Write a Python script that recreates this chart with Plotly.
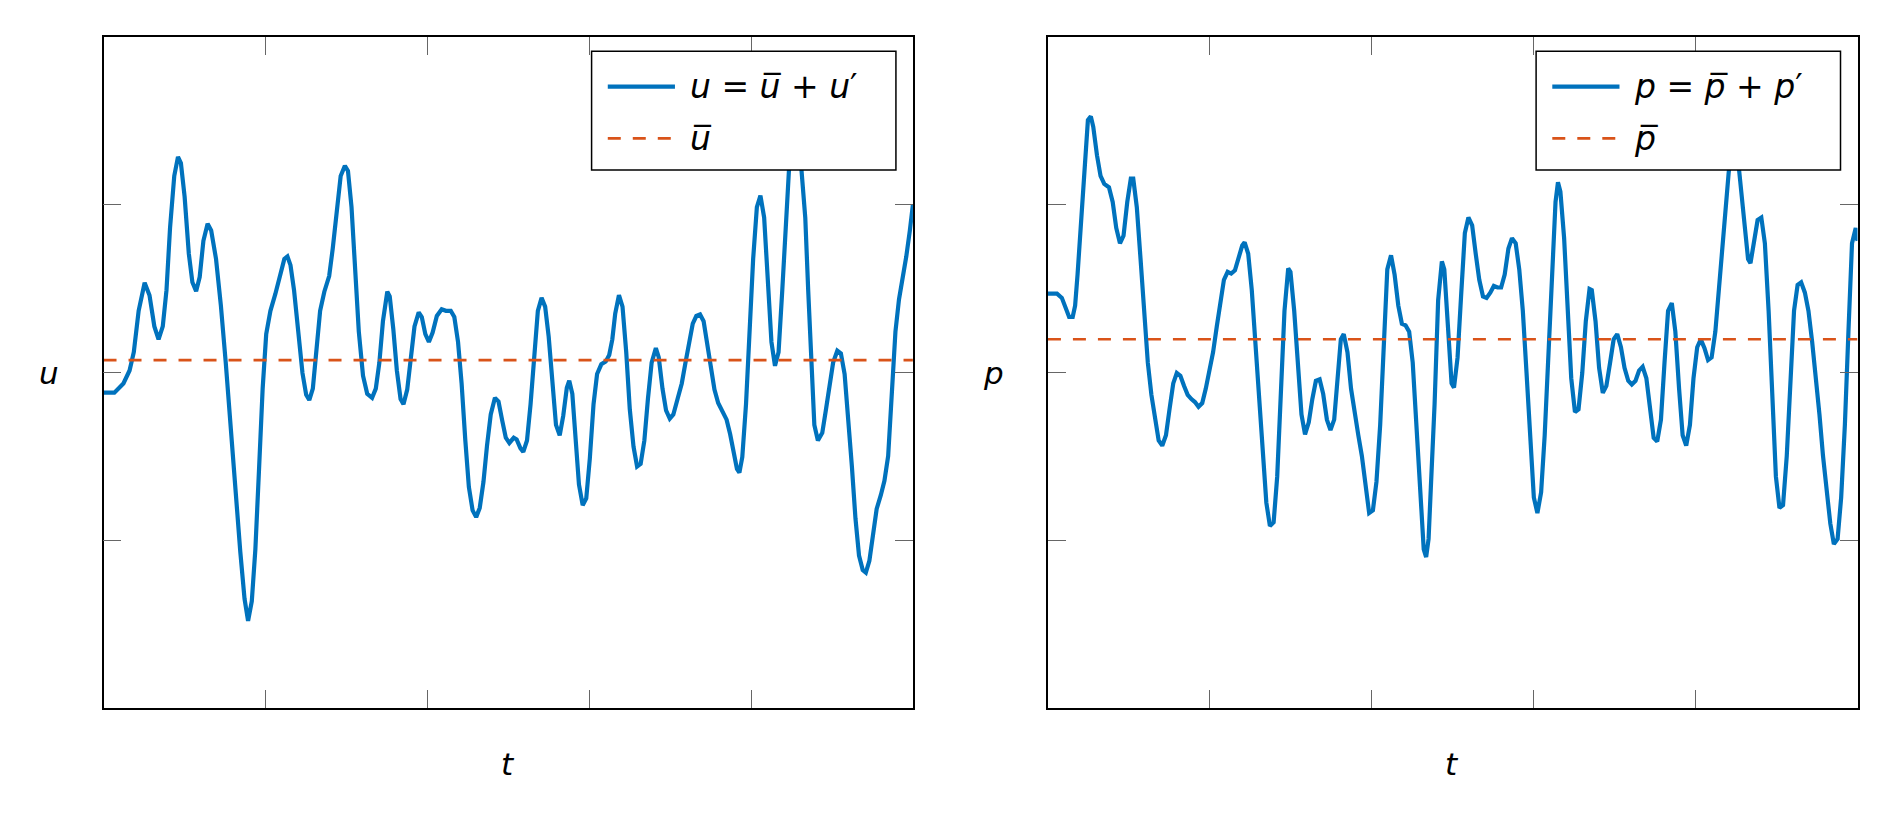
import plotly.graph_objects as go

# velocity signal u(t)
u_t = [0.000, 0.067, 0.123, 0.161, 0.187, 0.217, 0.254, 0.284, 0.314, 0.340,
       0.366, 0.389, 0.411, 0.437, 0.460, 0.478, 0.501, 0.527, 0.549, 0.572,
       0.594, 0.617, 0.643, 0.665, 0.695, 0.725, 0.755, 0.785, 0.815, 0.845,
       0.871, 0.893, 0.916, 0.938, 0.960, 0.983, 1.005, 1.031, 1.061, 1.091,
       1.117, 1.136, 1.155, 1.177, 1.203, 1.229, 1.252, 1.271, 1.293, 1.315,
       1.338, 1.364, 1.394, 1.416, 1.439, 1.465, 1.491, 1.510, 1.532, 1.555,
       1.577, 1.603, 1.629, 1.659, 1.682, 1.704, 1.726, 1.753, 1.768, 1.790,
       1.812, 1.835, 1.853, 1.876, 1.898, 1.921, 1.947, 1.966, 1.988, 2.010,
       2.033, 2.059, 2.089, 2.115, 2.145, 2.167, 2.190, 2.212, 2.235, 2.257,
       2.280, 2.302, 2.324, 2.347, 2.369, 2.392, 2.418, 2.440, 2.463, 2.485,
       2.507, 2.534, 2.552, 2.575, 2.593, 2.616, 2.638, 2.661, 2.683, 2.706,
       2.728, 2.750, 2.773, 2.795, 2.818, 2.840, 2.862, 2.877, 2.896, 2.915,
       2.937, 2.960, 2.982, 3.004, 3.027, 3.049, 3.075, 3.102, 3.124, 3.143,
       3.161, 3.184, 3.206, 3.229, 3.251, 3.274, 3.296, 3.318, 3.341, 3.363,
       3.386, 3.412, 3.430, 3.453, 3.475, 3.498, 3.520, 3.546, 3.572, 3.595,
       3.617, 3.640, 3.662, 3.685, 3.707, 3.729, 3.752, 3.774, 3.797, 3.827,
       3.849, 3.871, 3.894, 3.913, 3.928, 3.946, 3.969, 3.991, 4.013, 4.036,
       4.058, 4.081, 4.103, 4.126, 4.148, 4.170, 4.193, 4.215, 4.234, 4.275,
       4.312, 4.335, 4.353, 4.372, 4.391, 4.413, 4.440, 4.462, 4.484, 4.507,
       4.533, 4.555, 4.578, 4.600, 4.623, 4.645, 4.667, 4.690, 4.709, 4.731,
       4.753, 4.776, 4.802, 4.824, 4.847, 4.869, 4.892, 4.914, 4.936, 4.959,
       4.981, 5.000]
u_vals = [-0.120, -0.120, -0.065, 0.012, 0.121, 0.368, 0.535, 0.461, 0.275, 0.198,
          0.275, 0.491, 0.862, 1.172, 1.286, 1.249, 1.048, 0.708, 0.538, 0.485,
          0.569, 0.785, 0.887, 0.847, 0.677, 0.399, 0.059, -0.343, -0.730, -1.070,
          -1.348, -1.481, -1.363, -1.054, -0.590, -0.096, 0.229, 0.368, 0.467, 0.569,
          0.677, 0.692, 0.640, 0.491, 0.244, -0.003, -0.133, -0.164, -0.096, 0.121,
          0.368, 0.482, 0.575, 0.739, 0.940, 1.172, 1.233, 1.202, 0.986, 0.615,
          0.244, -0.019, -0.127, -0.151, -0.096, 0.059, 0.306, 0.482, 0.454, 0.260,
          0.012, -0.158, -0.189, -0.102, 0.090, 0.275, 0.359, 0.331, 0.229, 0.182,
          0.238, 0.337, 0.377, 0.368, 0.368, 0.331, 0.182, -0.065, -0.405, -0.683,
          -0.822, -0.862, -0.807, -0.652, -0.436, -0.250, -0.151, -0.173, -0.287, -0.389,
          -0.420, -0.389, -0.399, -0.451, -0.473, -0.405, -0.189, 0.121, 0.368, 0.445,
          0.393, 0.213, -0.065, -0.312, -0.374, -0.257, -0.090, -0.049, -0.127, -0.405,
          -0.668, -0.791, -0.751, -0.513, -0.189, -0.009, 0.049, 0.065, 0.105, 0.198,
          0.352, 0.461, 0.393, 0.121, -0.219, -0.442, -0.560, -0.544, -0.405, -0.158,
          0.059, 0.145, 0.090, -0.096, -0.226, -0.275, -0.250, -0.158, -0.065, 0.059,
          0.182, 0.291, 0.337, 0.346, 0.306, 0.182, 0.022, -0.102, -0.182, -0.241,
          -0.281, -0.368, -0.473, -0.575, -0.597, -0.504, -0.189, 0.244, 0.677, 0.986,
          1.054, 0.924, 0.553, 0.182, 0.040, 0.121, 0.491, 0.924, 1.202, 1.650,
          1.202, 0.924, 0.491, 0.059, -0.312, -0.405, -0.359, -0.226, -0.065, 0.059,
          0.130, 0.114, -0.009, -0.250, -0.560, -0.869, -1.091, -1.178, -1.193, -1.122,
          -0.968, -0.813, -0.730, -0.646, -0.498, -0.142, 0.244, 0.436, 0.553, 0.692,
          0.847, 1.002]
u_mean = 0.074

# pressure signal p(t)
p_t = [0.000, 0.056, 0.086, 0.108, 0.131, 0.153, 0.168, 0.183, 0.206, 0.228,
       0.247, 0.265, 0.280, 0.303, 0.325, 0.348, 0.377, 0.400, 0.422, 0.445,
       0.467, 0.490, 0.512, 0.527, 0.549, 0.572, 0.594, 0.617, 0.639, 0.661,
       0.684, 0.706, 0.729, 0.751, 0.774, 0.796, 0.818, 0.841, 0.863, 0.886,
       0.908, 0.930, 0.953, 0.975, 0.998, 1.020, 1.043, 1.065, 1.087, 1.110,
       1.132, 1.155, 1.177, 1.200, 1.215, 1.237, 1.259, 1.282, 1.304, 1.327,
       1.349, 1.371, 1.394, 1.416, 1.439, 1.461, 1.484, 1.498, 1.521, 1.543,
       1.566, 1.588, 1.611, 1.633, 1.655, 1.678, 1.700, 1.723, 1.745, 1.768,
       1.790, 1.809, 1.827, 1.850, 1.872, 1.895, 1.917, 1.939, 1.962, 1.984,
       2.007, 2.029, 2.052, 2.074, 2.096, 2.119, 2.141, 2.164, 2.186, 2.209,
       2.231, 2.253, 2.276, 2.298, 2.321, 2.336, 2.351, 2.365, 2.388, 2.410,
       2.433, 2.448, 2.470, 2.493, 2.508, 2.530, 2.552, 2.575, 2.597, 2.620,
       2.642, 2.664, 2.687, 2.709, 2.732, 2.754, 2.777, 2.799, 2.821, 2.844,
       2.866, 2.889, 2.911, 2.933, 2.956, 2.978, 3.001, 3.023, 3.046, 3.068,
       3.090, 3.113, 3.135, 3.150, 3.165, 3.188, 3.210, 3.232, 3.255, 3.277,
       3.300, 3.322, 3.345, 3.359, 3.382, 3.404, 3.427, 3.449, 3.472, 3.494,
       3.516, 3.539, 3.561, 3.584, 3.606, 3.629, 3.651, 3.673, 3.696, 3.718,
       3.741, 3.763, 3.786, 3.808, 3.830, 3.853, 3.875, 3.898, 3.920, 3.942,
       3.965, 3.987, 4.010, 4.032, 4.055, 4.077, 4.099, 4.122, 4.144, 4.167,
       4.189, 4.204, 4.238, 4.271, 4.301, 4.324, 4.339, 4.361, 4.383, 4.406,
       4.428, 4.451, 4.473, 4.496, 4.518, 4.540, 4.563, 4.585, 4.608, 4.630,
       4.652, 4.675, 4.697, 4.720, 4.742, 4.765, 4.787, 4.809, 4.832, 4.854,
       4.877, 4.899, 4.922, 4.944, 4.966, 4.989, 5.000]
p_vals = [0.470, 0.470, 0.445, 0.389, 0.331, 0.331, 0.399, 0.584, 0.924, 1.295,
          1.505, 1.527, 1.465, 1.295, 1.172, 1.125, 1.104, 1.017, 0.862, 0.770,
          0.816, 1.017, 1.156, 1.156, 0.986, 0.677, 0.368, 0.059, -0.133, -0.287,
          -0.405, -0.436, -0.374, -0.219, -0.065, -0.003, -0.019, -0.080, -0.133, -0.158,
          -0.176, -0.204, -0.182, -0.096, 0.012, 0.121, 0.275, 0.430, 0.553, 0.600,
          0.590, 0.609, 0.677, 0.757, 0.776, 0.708, 0.491, 0.182, -0.158, -0.498,
          -0.776, -0.915, -0.893, -0.621, -0.127, 0.368, 0.621, 0.600, 0.368, 0.059,
          -0.250, -0.368, -0.297, -0.158, -0.049, -0.040, -0.127, -0.281, -0.343, -0.281,
          -0.003, 0.198, 0.229, 0.121, -0.096, -0.250, -0.374, -0.498, -0.683, -0.838,
          -0.822, -0.652, -0.312, 0.182, 0.615, 0.699, 0.584, 0.399, 0.291, 0.281,
          0.244, 0.059, -0.312, -0.714, -1.054, -1.100, -0.992, -0.683, -0.189, 0.430,
          0.662, 0.615, 0.306, -0.065, -0.090, 0.090, 0.461, 0.832, 0.924, 0.878,
          0.708, 0.553, 0.454, 0.445, 0.476, 0.516, 0.507, 0.507, 0.584, 0.739,
          0.801, 0.770, 0.615, 0.368, -0.003, -0.405, -0.745, -0.838, -0.714, -0.374,
          0.121, 0.615, 1.017, 1.134, 1.079, 0.801, 0.368, -0.034, -0.235, -0.219,
          -0.003, 0.306, 0.498, 0.491, 0.306, 0.028, -0.121, -0.080, 0.059, 0.198,
          0.229, 0.151, 0.028, -0.049, -0.071, -0.049, 0.012, 0.034, -0.034, -0.219,
          -0.389, -0.411, -0.281, 0.059, 0.368, 0.414, 0.244, -0.096, -0.374, -0.436,
          -0.312, -0.034, 0.151, 0.198, 0.145, 0.074, 0.090, 0.244, 0.491, 0.801,
          1.048, 1.187, 1.500, 1.187, 0.862, 0.677, 0.652, 0.770, 0.909, 0.924,
          0.770, 0.368, -0.189, -0.621, -0.807, -0.791, -0.498, -0.003, 0.368, 0.522,
          0.538, 0.476, 0.368, 0.182, -0.003, -0.250, -0.498, -0.714, -0.900, -1.023,
          -0.992, -0.745, -0.312, 0.244, 0.770, 0.862, 0.785]
p_mean = 0.198

t_range = [0, 5]
t_ticks = [1, 2, 3, 4]
y_range = [-2, 2]
y_ticks = [-1, 0, 1]

blue = "#0072BD"
orange = "#D95319"
font = "DejaVu Sans"

fig = go.Figure()

panels = [
    ("x", "y", u_t, u_vals, u_mean, "u",
     "<i>u</i> = <i>u̅</i> + <i>u</i>′", "<i>u̅</i>"),
    ("x2", "y2", p_t, p_vals, p_mean, "p",
     "<i>p</i> = <i>p̅</i> + <i>p</i>′", "<i>p̅</i>"),
]

for xa, ya, tt, vv, mean, name, lab_full, lab_mean in panels:
    fig.add_trace(go.Scatter(x=tt, y=vv, mode="lines", xaxis=xa, yaxis=ya,
                             line=dict(color=blue, width=4.2), showlegend=False,
                             name=name))
    fig.add_trace(go.Scatter(x=t_range, y=[mean, mean], mode="lines",
                             xaxis=xa, yaxis=ya, showlegend=False,
                             line=dict(color=orange, width=2.6, dash="13px,12px"),
                             name="mean " + name))

    # legend box, drawn inside the axes like the original
    xd, yd = xa + " domain", ya + " domain"
    fig.add_shape(type="rect", xref=xd, yref=yd, x0=0.603, x1=0.979,
                  y0=0.802, y1=0.979, fillcolor="white",
                  line=dict(color="black", width=1.5))
    fig.add_shape(type="line", xref=xd, yref=yd, x0=0.623, x1=0.706,
                  y0=0.926, y1=0.926, line=dict(color=blue, width=4.2))
    fig.add_shape(type="line", xref=xd, yref=yd, x0=0.623, x1=0.706,
                  y0=0.849, y1=0.849,
                  line=dict(color=orange, width=2.6, dash="13px,12px"))
    fig.add_annotation(xref=xd, yref=yd, x=0.722, y=0.926, text=lab_full,
                       showarrow=False, xanchor="left", yanchor="middle",
                       font=dict(family=font, size=33, color="black"))
    fig.add_annotation(xref=xd, yref=yd, x=0.722, y=0.849, text=lab_mean,
                       showarrow=False, xanchor="left", yanchor="middle",
                       font=dict(family=font, size=33, color="black"))

axis_common = dict(showgrid=False, zeroline=False, showline=True,
                   linecolor="black", linewidth=1.5, mirror="ticks",
                   ticks="inside", ticklen=18, tickwidth=1, tickcolor="#666666",
                   showticklabels=False)

fig.update_layout(
    width=1896, height=814,
    margin=dict(l=0, r=0, t=0, b=0),
    paper_bgcolor="white", plot_bgcolor="white",
    xaxis=dict(domain=[0.0546, 0.4815], range=t_range, tickvals=t_ticks, **axis_common),
    yaxis=dict(domain=[0.1302, 0.9545], range=y_range, tickvals=y_ticks, **axis_common),
    xaxis2=dict(domain=[0.5527, 0.9797], range=t_range, tickvals=t_ticks,
                anchor="y2", **axis_common),
    yaxis2=dict(domain=[0.1302, 0.9545], range=y_range, tickvals=y_ticks,
                anchor="x2", **axis_common),
)

# axis labels
labels = [(49, 373, "<i>u</i>"), (508, 764, "<i>t</i>"),
          (993, 373, "<i>p</i>"), (1452, 764, "<i>t</i>")]
for px, py, txt in labels:
    fig.add_annotation(xref="paper", yref="paper", x=px / 1896, y=1 - py / 814,
                       text=txt, showarrow=False, xanchor="center", yanchor="middle",
                       font=dict(family=font, size=31, color="black"))

# drop the browser's default page margin so the figure sits at the top-left
fig.write_html("out.html", config={"displayModeBar": False},
               post_script="document.body.style.margin='0px';")
